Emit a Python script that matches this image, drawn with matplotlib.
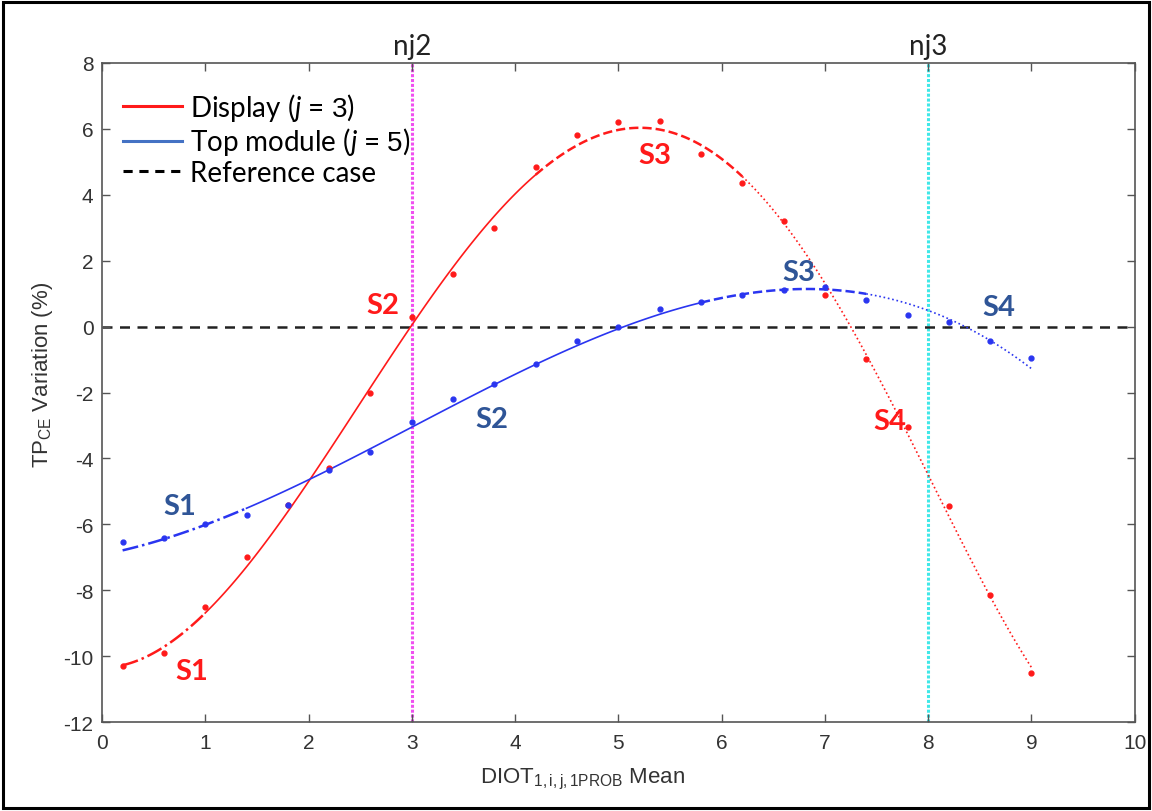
import numpy as np
import matplotlib.pyplot as plt
from matplotlib.patches import Rectangle

# DIOT mean values (x) and TP_CE variation (%)
x_vals = [0.2, 0.6, 1.0, 1.4, 1.8, 2.2, 2.6, 3.0, 3.4, 3.8, 4.2, 4.6,
          5.0, 5.4, 5.8, 6.2, 6.6, 7.0, 7.4, 7.8, 8.2, 8.6, 9.0]
display_vals = [-10.3, -9.9, -8.5, -7.0, -5.4, -4.3, -2.0, 0.3, 1.6, 3.0, 4.85, 5.8,
                6.2, 6.25, 5.25, 4.35, 3.2, 0.95, -0.97, -3.05, -5.45, -8.15, -10.5]
top_vals = [-6.55, -6.4, -6.0, -5.73, -5.4, -4.35, -3.8, -2.9, -2.2, -1.73, -1.12, -0.45,
            0.0, 0.55, 0.75, 0.95, 1.1, 1.2, 0.8, 0.35, 0.15, -0.45, -0.95]

# segment break points (S1..S4) for each series
display_breaks = [0.2, 1.0, 4.2, 6.2, 9.0]
top_breaks = [0.2, 1.4, 5.8, 7.4, 9.0]
seg_names = ['S1', 'S2', 'S3', 'S4']
seg_styles = ['-.', '-', '--', ':']

# segment label positions (x, y)
display_lbl_pos = [(0.87, -10.45), (2.72, 0.65), (5.35, 5.2), (7.63, -2.85)]
top_lbl_pos = [(0.75, -5.45), (3.78, -2.8), (6.75, 1.67), (8.68, 0.6)]

nj_x = [3, 8]
nj_labels = ['nj2', 'nj3']
nj_colors = ['#F050F0', '#40E8E8']

RED = '#FF1A1A'
BLUE = '#2A35F0'
DARK_BLUE = '#2F5597'
AXIS_GREY = '#555555'
TEXT_GREY = '#333333'
CALIBRI_LIKE = ['Lato', 'DejaVu Sans']

plt.rcParams['font.family'] = ['Liberation Sans', 'DejaVu Sans']
plt.rcParams['axes.unicode_minus'] = False
plt.rcParams['mathtext.fontset'] = 'custom'
plt.rcParams['mathtext.rm'] = 'Liberation Sans'
plt.rcParams['mathtext.it'] = 'Lato:italic'

fig = plt.figure(figsize=(11.52, 8.12), dpi=100)
ax = fig.add_axes([0.0885, 0.1095, 0.8965, 0.8117])

# figure border
fig.patches.append(Rectangle((0.003, 0.004), 0.994, 0.992, transform=fig.transFigure,
                             fill=False, edgecolor='black', linewidth=2.2))

# trend curves from polynomial fits to the points
red_fit = np.poly1d(np.polyfit(x_vals, display_vals, 5))
blue_fit = np.poly1d(np.polyfit(x_vals, top_vals, 3))

for fit, breaks, col in [(red_fit, display_breaks, RED), (blue_fit, top_breaks, BLUE)]:
    for k in range(4):
        xs = np.linspace(breaks[k], breaks[k + 1], 100)
        lw = 1.8 if seg_styles[k] in ('--', '-.') else 1.2
        ax.plot(xs, fit(xs), linestyle=seg_styles[k], color=col, linewidth=lw)

ax.plot(x_vals, display_vals, 'o', color=RED, markersize=3.5, linestyle='none')
ax.plot(x_vals, top_vals, 'o', color=BLUE, markersize=3.5, linestyle='none')

# reference case
ax.axhline(0, color='#222222', linestyle=(0, (4, 3)), linewidth=1.8, zorder=1)

# nj marker lines
for xv, lab, c in zip(nj_x, nj_labels, nj_colors):
    ax.axvline(xv, color=c, linestyle=(0, (1, 0.6)), linewidth=2.2, zorder=0)
    ax.text(xv, 8.27, lab, ha='center', va='baseline', fontsize=20,
            family=CALIBRI_LIKE, color='#222222')

# segment labels
for (lx, ly), name in zip(display_lbl_pos, seg_names):
    ax.text(lx, ly, name, color=RED, fontsize=21, fontweight='bold',
            family=CALIBRI_LIKE, ha='center', va='center')
for (lx, ly), name in zip(top_lbl_pos, seg_names):
    ax.text(lx, ly, name, color=DARK_BLUE, fontsize=21, fontweight='bold',
            family=CALIBRI_LIKE, ha='center', va='center')

# legend proxies
h1, = ax.plot([], [], color=RED, linewidth=2.2)
h2, = ax.plot([], [], color='#4472C4', linewidth=2.2)
h3, = ax.plot([], [], color='black', linestyle=(0, (3, 2.2)), linewidth=2.2)
leg = ax.legend([h1, h2, h3],
                [r'Display ($\mathit{j}$ = $\mathit{3}$)', r'Top module ($\mathit{j}$ = $\mathit{5}$)',
                 'Reference case'],
                loc='upper left', frameon=False, handlelength=2.1,
                handletextpad=0.3, labelspacing=0.1, borderaxespad=0.0,
                bbox_to_anchor=(0.01, 0.975),
                prop={'family': CALIBRI_LIKE, 'size': 20})

ax.set_xlim(0, 10)
ax.set_ylim(-12, 8)
ax.set_xticks(range(0, 11))
ax.set_yticks(range(-12, 9, 2))
ax.tick_params(direction='in', top=True, right=True, length=6, width=1,
               colors=AXIS_GREY, labelcolor=TEXT_GREY, labelsize=15)
ax.tick_params(axis='x', pad=8)
ax.tick_params(axis='y', pad=6)
for sp in ax.spines.values():
    sp.set_color(AXIS_GREY)
    sp.set_linewidth(1.2)

ax.set_xlabel(r'DIOT$_{\mathregular{1,i,j,1PROB}}$ Mean', fontsize=16, color=TEXT_GREY)
ax.set_ylabel(r'TP$_{\mathregular{CE}}$ Variation (%)', fontsize=16, color=TEXT_GREY)
ax.xaxis.set_label_coords(0.465, -0.066)
ax.yaxis.set_label_coords(-0.045, 0.528)

fig.savefig('out.png', dpi=100)
